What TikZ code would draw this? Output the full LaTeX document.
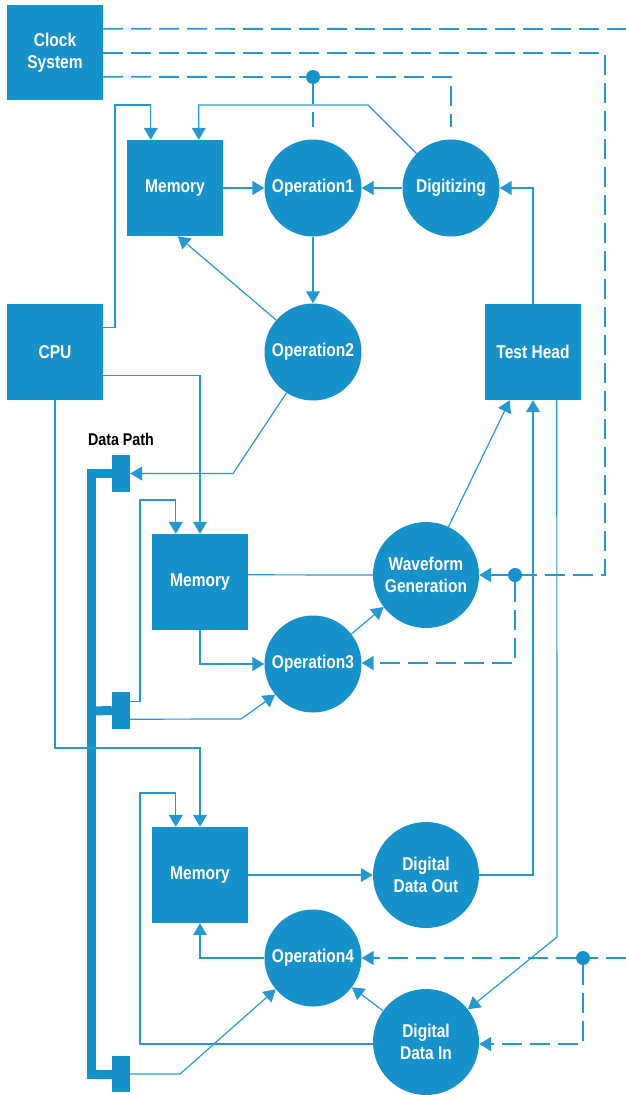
\documentclass[tikz,border=0pt]{standalone}
\usepackage{fontspec}
\setmainfont{Liberation Sans}[FakeStretch=0.84]
\usetikzlibrary{arrows.meta,calc}
\definecolor{hpblue}{RGB}{23,145,201}
\definecolor{lineblue}{RGB}{38,152,207}
\begin{document}
\begin{tikzpicture}[x=1pt,y=-1pt,
  box/.style={rectangle,fill=hpblue,draw=none,minimum width=96pt,minimum height=96pt,inner sep=0pt,text=white,align=center,font=\bfseries\fontsize{18.5}{21.5}\selectfont},
  opc/.style={circle,fill=hpblue,draw=none,minimum size=97pt,inner sep=0pt,text=white,align=center,font=\bfseries\fontsize{18.5}{21.5}\selectfont},
  bigc/.style={opc,minimum size=106pt},
  blk/.style={rectangle,fill=hpblue,draw=none,minimum width=18pt,minimum height=37pt,inner sep=0pt},
  dotn/.style={circle,fill=hpblue,draw=none,minimum size=14pt,inner sep=0pt},
  conn/.style={draw=lineblue,line width=1.2pt},
  dsh/.style={draw=lineblue,line width=1.8pt,dash pattern=on 20pt off 8pt},
  bus/.style={draw=hpblue,line width=9pt,line join=miter},
  tip/.tip={Triangle[length=12pt,width=14pt]}
]
\useasboundingbox (0,0) rectangle (626,1095);
% nodes
\node[box,minimum height=95pt] (clock) at (55,52.5) {Clock\\System};
\node[box] (cpu) at (55,352) {CPU};
\node[box] (mem1) at (175,188) {Memory};
\node[opc] (op1) at (313,188) {Operation1};
\node[opc] (dig) at (451,188) {Digitizing};
\node[opc] (op2) at (313,352) {Operation2};
\node[box] (th) at (533,352) {Test Head};
\node[box] (mem2) at (200,582) {Memory};
\node[bigc] (wave) at (426,575) {Waveform\\Generation};
\node[opc] (op3) at (313,664) {Operation3};
\node[box] (mem3) at (200,875) {Memory};
\node[bigc] (ddo) at (426,875) {Digital\\Data Out};
\node[opc] (op4) at (313,958) {Operation4};
\node[bigc] (ddi) at (426,1042) {Digital\\Data In};
\node[blk] (b1) at (121,473.5) {};
\node[blk] (b2) at (121,710.5) {};
\node[blk,minimum height=36pt] (b3) at (121,1074) {};
\node[font=\bfseries\fontsize{17}{20}\selectfont,text=black,inner sep=0pt] (dp) at (121,439) {Data Path};
\node[dotn] (d1) at (313,77) {};
\node[dotn] (d2) at (515,575) {};
\node[dotn] (d3) at (583,958) {};
\coordinate (e1) at (626,29);
\coordinate (e3) at (626,958);
% data path bus
\draw[bus] (b1.west) -| (91.5,1074) -- (b3.west);
\draw[bus] (91.5,711) -- (b2.west);
% clock dashed lines
\draw[dsh] ($(clock.north east)+(0,24)$) -- (e1);
\draw[dsh] ($(clock.north east)+(0,48)$) -| (605,575) -- (d2);
\draw[dsh,-tip] (d2) -- (wave.east);
\draw[dsh,-tip] (d2) |- ($(op3.east)+(0,-1)$);
\draw[dsh] ($(clock.north east)+(0,72)$) -- (d1);
\draw[dsh] (d1) -- (451,77) -- ($(dig.north)+(0,-12)$);
\draw[dsh] (d1) -- ($(op1.north)+(0,-12)$);
\draw[dsh] (e3) -- (d3);
\draw[dsh,-tip] (d3) -- (op4.east);
\draw[dsh,-tip] (d3) |- ($(ddi.east)+(0,2)$);
% top section
\draw[conn,-tip] ($(cpu.north east)+(0,24)$) -| (115,105) -| ($(mem1.north west)+(24,0)$);
\draw[conn,-tip] (dig.135) -- (368,105) -| ($(mem1.north west)+(72,0)$);
\draw[conn,-tip] (mem1.east) -- (op1.west);
\draw[conn,-tip] (dig.west) -- (op1.east);
\draw[conn,-tip] (op1.south) -- (op2.north);
\draw[conn,-tip] (op2.139) -- ($(mem1.south west)+(51,0)$);
\draw[conn,-tip] (op2.-123) -- (233,473.5) -- (b1.east);
\draw[conn,-tip] (th.north) |- (dig.east);
% middle section
\draw[conn,-tip] ($(cpu.north east)+(0,72)$) -| (mem2.north);
\draw[conn,-tip] ($(b2.north east)+(0,10)$) -| (140,500) -| ($(mem2.north west)+(24,0)$);
\draw[conn,-tip] ($(b2.south east)+(0,-10)$) -- (241,719) -- (op3.219);
\draw[conn,-tip] (mem2.south) |- (op3.west);
\draw[conn] ($(mem2.north east)+(0,41)$) -- (wave.west);
\draw[conn,-tip] (op3.38) -- (wave.217);
\draw[conn,-tip] (wave.65) -- ($(th.south west)+(25,0)$);
% bottom section
\draw[conn,-tip] (cpu.south) |- (200,748) -- (mem3.north);
\draw[conn,-tip] ($(ddi.west)+(0,2)$) -| (140,793) -| ($(mem3.north west)+(24,0)$);
\draw[conn,-tip] (mem3.east) -- (ddo.west);
\draw[conn,-tip] (ddo.east) -| (th.south);
\draw[conn,-tip] ($(th.south west)+(72,0)$) -- (557,937) -- (ddi.38);
\draw[conn,-tip] (ddi.144) -- (op4.-37);
\draw[conn,-tip] (op4.west) -| (mem3.south);
\draw[conn,-tip] (b3.east) -- (180,1074) -- (op4.220);
\end{tikzpicture}
\end{document}
